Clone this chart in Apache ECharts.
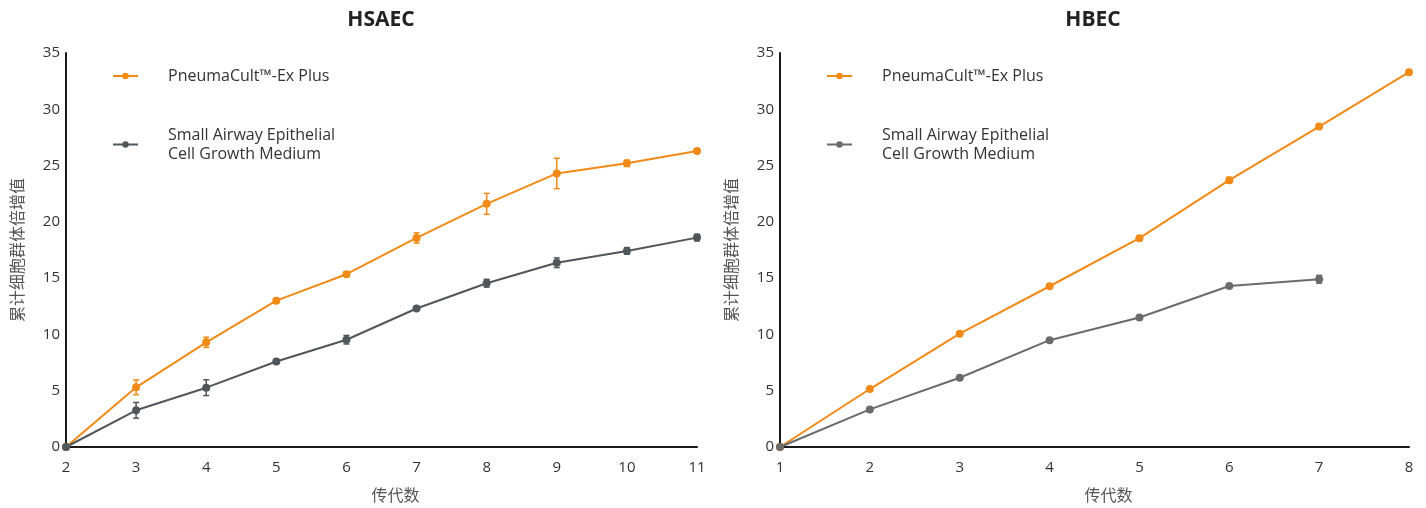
<!DOCTYPE html>
<html><head><meta charset="utf-8">
<script src="https://cdn.jsdelivr.net/npm/echarts@6/dist/echarts.min.js"></script>
<style>html,body{margin:0;padding:0;background:#fff}#c{width:1426px;height:508px}</style>
</head><body><div id="c"></div>
<script>
// ---- data ----
const titles = ['HSAEC', 'HBEC'];
const seriesNames = ['PneumaCult™-Ex Plus', 'Small Airway Epithelial\nCell Growth Medium'];
const yAxisName = '累计细胞群体倍增值';
const xAxisName = '传代数';
const yTicks = [0, 5, 10, 15, 20, 25, 30, 35];

// HSAEC (passage 2..11)
const hsaecPassages = [2, 3, 4, 5, 6, 7, 8, 9, 10, 11];
const hsaecPlus = [0, 5.3, 9.3, 13.0, 15.35, 18.57, 21.6, 24.3, 25.2, 26.3];
const hsaecPlusErr = [0, 0.65, 0.45, 0.15, 0.18, 0.45, 0.93, 1.35, 0.28, 0.12];
const hsaecSag = [0, 3.26, 5.27, 7.6, 9.53, 12.3, 14.55, 16.37, 17.42, 18.6];
const hsaecSagErr = [0, 0.7, 0.7, 0.15, 0.38, 0.15, 0.35, 0.43, 0.3, 0.3];

// HBEC (passage 1..8)
const hbecPassages = [1, 2, 3, 4, 5, 6, 7, 8];
const hbecPlus = [0, 5.15, 10.07, 14.28, 18.55, 23.7, 28.46, 33.3];
const hbecPlusErr = [0, 0.1, 0.1, 0.12, 0.1, 0.25, 0.15, 0.12];
const hbecSag = [0, 3.34, 6.15, 9.49, 11.5, 14.3, 14.9];
const hbecSagErr = [0, 0.08, 0.08, 0.1, 0.1, 0.1, 0.35];

const orange = '#f28a17';
const grayL = '#50575b';
const grayR = '#6b6b6b';

function pairs(xs, ys) { return ys.map((y, i) => [xs[i], y]); }
function errData(xs, ys, es) { return ys.map((y, i) => [xs[i], y - es[i], y + es[i]]); }

function errSeries(idx, data, color) {
  return {
    type: 'custom', xAxisIndex: idx, yAxisIndex: idx, silent: true, z: 3,
    data: data,
    renderItem: function (params, api) {
      const x = api.value(0);
      const lo = api.coord([x, api.value(1)]);
      const hi = api.coord([x, api.value(2)]);
      const w = 3;
      const st = { stroke: color, lineWidth: 1.5 };
      return { type: 'group', children: [
        { type: 'line', shape: { x1: lo[0], y1: lo[1], x2: hi[0], y2: hi[1] }, style: st },
        { type: 'line', shape: { x1: lo[0] - w, y1: lo[1], x2: lo[0] + w, y2: lo[1] }, style: st },
        { type: 'line', shape: { x1: hi[0] - w, y1: hi[1], x2: hi[0] + w, y2: hi[1] }, style: st }
      ]};
    }
  };
}

function lineSeries(idx, name, data, color) {
  return {
    type: 'line', name: name, xAxisIndex: idx, yAxisIndex: idx, data: data,
    symbol: 'circle', symbolSize: 8, z: 4,
    lineStyle: { color: color, width: 2 }, itemStyle: { color: color },
    emphasis: { disabled: true }
  };
}

const grids = [
  { left: 66, top: 53, width: 631, height: 394 },
  { left: 780, top: 53, width: 629, height: 394 }
];
const font = '"Open Sans", "Noto Sans", sans-serif';
const cjk = '"Noto Sans CJK SC", sans-serif';

function xAxis(idx, xs) {
  return {
    type: 'value', gridIndex: idx, min: xs[0], max: xs[xs.length - 1], interval: 1,
    name: xAxisName, nameLocation: 'middle', nameGap: 40,
    nameTextStyle: { color: '#555', fontSize: 16, fontFamily: cjk, padding: [0, 0, 0, 28] },
    axisLine: { lineStyle: { color: '#1a1a1a', width: 2 } },
    axisTick: { show: false }, splitLine: { show: false },
    axisLabel: { color: '#333', fontSize: 15, fontFamily: font, margin: 13 }
  };
}
function yAxis(idx) {
  return {
    type: 'value', gridIndex: idx, min: yTicks[0], max: yTicks[yTicks.length - 1], interval: 5,
    name: yAxisName, nameLocation: 'middle', nameGap: 41,
    nameTextStyle: { color: '#555', fontSize: 16, fontFamily: cjk },
    axisLine: { show: true, lineStyle: { color: '#1a1a1a', width: 2 } },
    axisTick: { show: false }, splitLine: { show: false },
    axisLabel: { color: '#333', fontSize: 15, fontFamily: font, margin: 6 }
  };
}

function legend(left, names, colors) {
  return {
    left: left, top: 63, orient: 'vertical', itemGap: 43, itemWidth: 25, itemHeight: 8,
    selectedMode: false,
    data: names.map((n, i) => ({ name: n, itemStyle: { color: colors[i] }, lineStyle: { color: colors[i] } })),
    formatter: n => '{a|' + n.split('\n').join('}\n{a|') + '}',
    textStyle: { color: '#333', fontSize: 16, fontFamily: font,
      rich: { a: { fontSize: 16, fontFamily: font, color: '#333', lineHeight: 19, padding: [0, 0, 0, 25] } } }
  };
}

const chart = echarts.init(document.getElementById('c'), null, { renderer: 'canvas' });
const lName0 = seriesNames[0], lName1 = seriesNames[1];
chart.setOption({
  animation: false,
  title: [
    { text: titles[0], left: 376, top: 5, textAlign: 'center', textStyle: { fontSize: 21, fontWeight: 'bold', color: '#222', fontFamily: font } },
    { text: titles[1], left: 1088, top: 5, textAlign: 'center', textStyle: { fontSize: 21, fontWeight: 'bold', color: '#222', fontFamily: font } }
  ],
  legend: [
    Object.assign(legend(107, [lName0, lName1], [orange, grayL]), { id: 'l0' }),
    Object.assign(legend(821, [lName0 + ' ', lName1 + ' '], [orange, grayR]), { id: 'l1' })
  ],
  grid: grids,
  xAxis: [xAxis(0, hsaecPassages), xAxis(1, hbecPassages)],
  yAxis: [yAxis(0), yAxis(1)],
  series: [
    errSeries(0, errData(hsaecPassages, hsaecPlus, hsaecPlusErr), orange),
    errSeries(0, errData(hsaecPassages, hsaecSag, hsaecSagErr), grayL),
    lineSeries(0, lName0, pairs(hsaecPassages, hsaecPlus), orange),
    lineSeries(0, lName1, pairs(hsaecPassages, hsaecSag), grayL),
    errSeries(1, errData(hbecPassages, hbecPlus, hbecPlusErr), orange),
    errSeries(1, errData(hbecPassages, hbecSag, hbecSagErr), grayR),
    // trailing space keeps the HBEC panel's legend entries distinct from the HSAEC ones
    lineSeries(1, lName0 + ' ', pairs(hbecPassages, hbecPlus), orange),
    lineSeries(1, lName1 + ' ', pairs(hbecPassages, hbecSag), grayR)
  ]
});
</script></body></html>
